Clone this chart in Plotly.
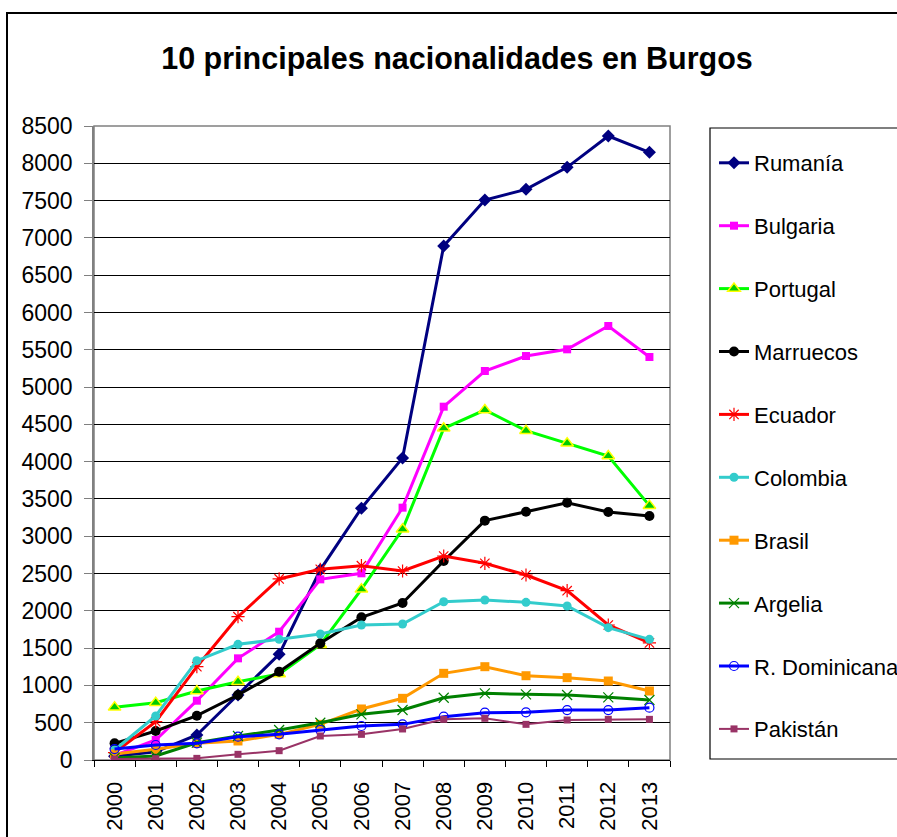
import plotly.graph_objects as go

years = [str(y) for y in range(2000, 2014)]

rumania = [50, 110, 335, 871, 1417, 2550, 3375, 4050, 6891, 7508, 7651, 7946, 8366, 8147]
bulgaria = [60, 268, 795, 1363, 1720, 2422, 2503, 3383, 4737, 5215, 5416, 5506, 5819, 5403]
portugal = [706, 768, 925, 1050, 1153, 1545, 2288, 3093, 4447, 4692, 4415, 4246, 4076, 3410]
marruecos = [223, 389, 594, 871, 1184, 1564, 1913, 2105, 2668, 3209, 3329, 3450, 3325, 3271]
ecuador = [100, 514, 1251, 1921, 2427, 2557, 2605, 2534, 2735, 2637, 2480, 2270, 1810, 1570]
colombia = [134, 590, 1332, 1551, 1618, 1689, 1810, 1823, 2122, 2145, 2114, 2065, 1774, 1618]
brasil = [80, 143, 223, 255, 344, 478, 684, 827, 1162, 1251, 1130, 1104, 1059, 925]
argelia = [27, 54, 232, 322, 402, 500, 612, 670, 835, 894, 880, 871, 840, 804]
rdominicana = [147, 201, 223, 313, 344, 402, 456, 478, 581, 634, 639, 670, 670, 701]
pakistan = [13, 18, 22, 76, 125, 322, 344, 416, 545, 559, 478, 536, 545, 545]

y_ticks = list(range(0, 8501, 500))

series = [
    ("Rumanía", rumania, "#000080", dict(symbol="diamond", size=10, color="#000080")),
    ("Bulgaria", bulgaria, "#FF00FF", dict(symbol="square", size=8, color="#FF00FF")),
    ("Portugal", portugal, "#00FF00", dict(symbol="triangle-up", size=11, color="#00CC00",
                                          line=dict(color="#FFFF00", width=1.5))),
    ("Marruecos", marruecos, "#000000", dict(symbol="circle", size=10, color="#000000")),
    ("Ecuador", ecuador, "#FF0000", dict(symbol="asterisk-open", size=11,
                                        line=dict(color="#FF0000", width=1.2))),
    ("Colombia", colombia, "#33CCCC", dict(symbol="circle", size=9, color="#33CCCC")),
    ("Brasil", brasil, "#FF9900", dict(symbol="square", size=9, color="#FF9900")),
    ("Argelia", argelia, "#008000", dict(symbol="x-thin-open", size=10,
                                        line=dict(color="#339966", width=1.2))),
    ("R. Dominicana", rdominicana, "#0000FF", dict(symbol="circle-open", size=9,
                                                  line=dict(color="#0000FF", width=1.2))),
    ("Pakistán", pakistan, "#993366", dict(symbol="square", size=7, color="#993366")),
]

fig = go.Figure()
for i, (name, vals, col, mk) in enumerate(series):
    lw = 2 if name == "Pakistán" else 3
    fig.add_trace(go.Scatter(
        x=years, y=vals, name=name, mode="lines+markers",
        line=dict(color=col, width=lw), marker=mk, legendgroup=f"g{i}",
    ))

W, H = 897, 837
L, R, T, B = 94, 227, 126, 77
pw, ph = W - L - R, H - T - B

def px_x(x):
    return (x - L) / pw

def px_y(y):
    return (H - B - y) / ph

fig.update_layout(
    width=W, height=H,
    margin=dict(l=L, r=R, t=T, b=B, pad=0, autoexpand=False),
    paper_bgcolor="white", plot_bgcolor="white",
    font=dict(family="Liberation Sans, Arial, sans-serif", color="black"),
    title=dict(text="<b>10 principales nacionalidades en Burgos</b>",
               x=457 / W, xanchor="center", y=1 - 58 / H, yanchor="middle",
               font=dict(size=30.5, family="Liberation Sans, Arial, sans-serif")),
    showlegend=True,
    legend=dict(x=px_x(714), xanchor="left", y=px_y(142), yanchor="top",
                font=dict(size=22), tracegroupgap=31.3, bgcolor="rgba(0,0,0,0)",
                borderwidth=0, traceorder="grouped"),
    xaxis=dict(type="category", range=[-0.5, 13.5], tickangle=-90,
               tickfont=dict(size=22), ticks="outside", ticklen=6, tickcolor="#000",
               tickson="boundaries", showgrid=False, showline=True, automargin=False,
               linecolor="#000", linewidth=1, ticklabelstandoff=12, zeroline=False),
    yaxis=dict(range=[0, 8500], tickvals=y_ticks, ticktext=[str(v) for v in y_ticks],
               tickfont=dict(size=23), ticks="outside", ticklen=8, tickcolor="#808080",
               showgrid=True, gridcolor="#000", gridwidth=1, showline=True, automargin=False,
               linecolor="#808080", linewidth=1.5, ticklabelstandoff=7, zeroline=False),
    shapes=[
        # plot area border (right/top)
        dict(type="rect", xref="paper", yref="paper", x0=0, x1=1, y0=0, y1=1,
             line=dict(color="#808080", width=1.5), layer="below"),
        # legend box
        dict(type="rect", xref="paper", yref="paper", x0=px_x(710), x1=px_x(1000),
             y0=px_y(759), y1=px_y(128), line=dict(color="#000", width=1.2)),
        # outer chart border
        dict(type="rect", xref="paper", yref="paper", x0=px_x(7), x1=px_x(1100),
             y0=px_y(1000), y1=px_y(13), line=dict(color="#000", width=2)),
    ],
)

fig.write_html(
    "out.html",
    config={"displayModeBar": False},
    post_script="document.body.style.margin='0';document.body.style.overflow='hidden';",
)
